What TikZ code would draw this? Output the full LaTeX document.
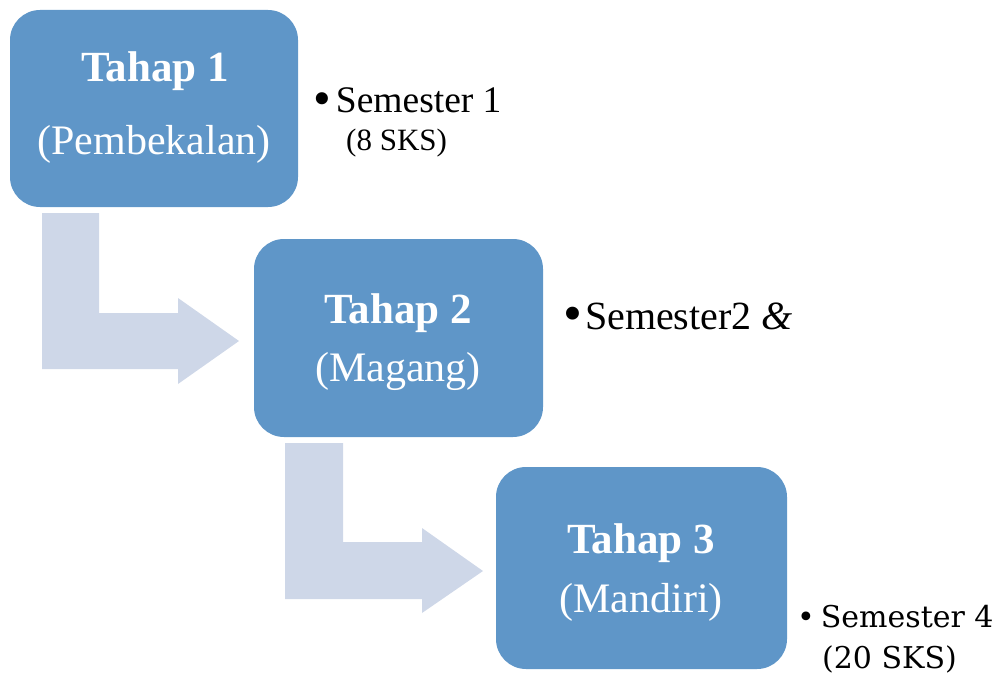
\documentclass[tikz,border=0pt]{standalone}
\usepackage{fontspec}
\setmainfont{Liberation Serif}
\newfontfamily\schola{DejaVu Serif}
\definecolor{boxblue}{RGB}{95,150,200}
\definecolor{arrowgray}{RGB}{206,215,232}
\newcommand{\bigbul}{\raisebox{-0.06em}{\scalebox{1.35}{•}}}
\begin{document}
\begin{tikzpicture}[x=1pt,y=-1pt,
  stagebox/.style={fill=boxblue,rounded corners=30pt,inner sep=0pt},
  boxtitle/.style={text=white,anchor=base,inner sep=0pt,font=\fontsize{43}{43}\selectfont\bfseries},
  boxsub/.style={text=white,anchor=base,inner sep=0pt,font=\fontsize{42}{42}\selectfont},
  note/.style={anchor=base west,inner sep=0pt},
  bentarrow/.style={fill=arrowgray}]
\useasboundingbox (0,0) rectangle (995,682);
% boxes
\node[stagebox,minimum width=288pt,minimum height=197pt] (b1) at (154,108.5) {};
\node[stagebox,minimum width=289pt,minimum height=198pt] (b2) at (398.5,338) {};
\node[stagebox,minimum width=291pt,minimum height=202pt] (b3) at (641.5,568) {};
% bent arrows
\fill[bentarrow] (42,213) -- (99,213) -- (99,313) -- (178,313) -- (178,298) -- (239,341) -- (178,384) -- (178,369) -- (42,369) -- cycle;
\fill[bentarrow] (285,443) -- (343,443) -- (343,542) -- (422,542) -- (422,528) -- (483,571) -- (422,613) -- (422,599) -- (285,599) -- cycle;
% box texts
\node[boxtitle] (t1) at (155,82) {Tahap 1};
\node[boxsub] (s1) at (154,154) {(Pembekalan)};
\node[boxtitle] (t2) at (398,323) {Tahap 2};
\node[boxsub] (s2) at (398,381) {(Magang)};
\node[boxtitle] (t3) at (641,553) {Tahap 3};
\node[boxsub] (s3) at (641,612) {(Mandiri)};
% notes
\node[note,font=\fontsize{37.5}{37.5}\selectfont] (n1) at (313,113) {\bigbul\hspace{5pt}Semester 1};
\node[note,font=\fontsize{31}{31}\selectfont] (n1b) at (346,150) {(8 SKS)};
\node[note,font=\fontsize{40}{40}\selectfont] (n2) at (563,329) {\bigbul\hspace{3pt}Semester2 \textit{\&}};
\node[note,font=\fontsize{30}{30}\selectfont\schola] (n3) at (797,627) {•\hspace{6pt}Semester 4};
\node[note,font=\fontsize{30}{30}\selectfont\schola] (n3b) at (822,668) {(20 SKS)};
\end{tikzpicture}
\end{document}
